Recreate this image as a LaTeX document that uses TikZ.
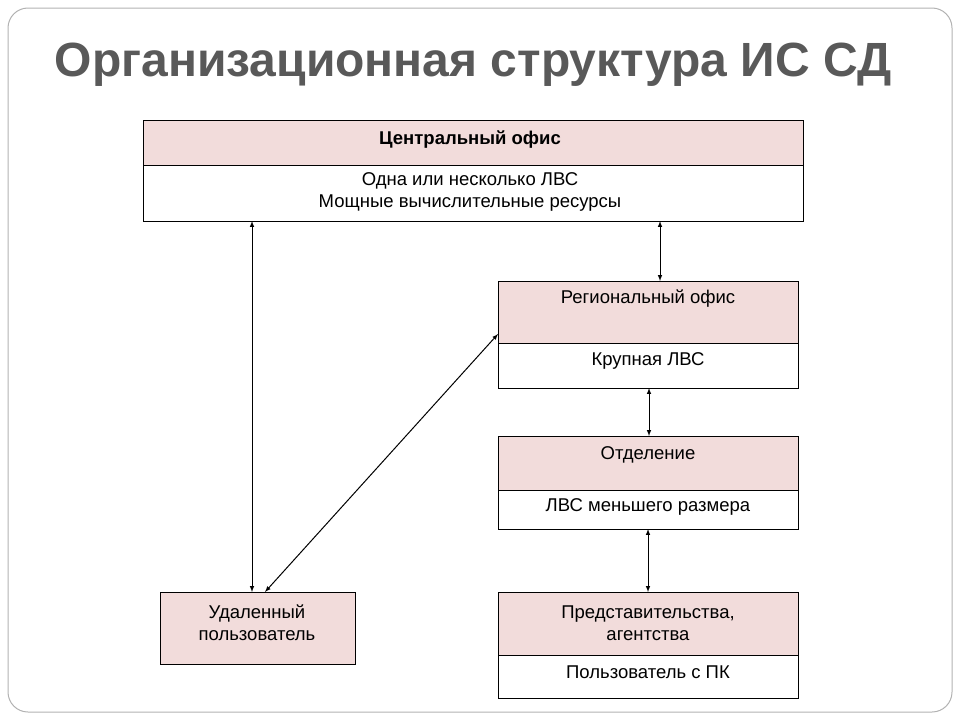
\documentclass[tikz,border=0pt]{standalone}
\usepackage{fontspec}
\setmainfont{Liberation Sans}
\begin{document}
\begin{tikzpicture}[x=1pt,y=-1pt,
  pinkc/.style={draw=black,fill=pinkbg,line width=0.8pt},
  whitec/.style={draw=black,fill=white,line width=0.8pt},
  lbl/.style={font=\fontsize{18.5}{22}\selectfont,align=center},
  conn/.style={<->,>=latex,line width=1pt}]
\definecolor{pinkbg}{HTML}{F2DCDB}
\definecolor{titleg}{HTML}{595959}
\useasboundingbox (0,0) rectangle (960,720);
\draw[gray!60,line width=1pt,rounded corners=20pt] (8,8) rectangle (952,712);
\node[font=\fontsize{48}{54}\selectfont\bfseries,text=titleg] (title) at (473,65) {Организационная структура ИС СД};
% central
\draw[whitec] (143,165) rectangle (803,221);
\draw[pinkc] (143,120) rectangle (803,165);
\node[lbl,font=\fontsize{18.5}{22}\selectfont\bfseries] (c1) at (470,140) {Центральный офис};
\node[lbl] (c2) at (470,192) {Одна или несколько ЛВС\\Мощные вычислительные ресурсы};
\coordinate (cb1) at (252,221); \coordinate (cb2) at (660,221);
% regional
\draw[whitec] (498,343) rectangle (798,388);
\draw[pinkc] (498,281) rectangle (798,343);
\node[lbl] (r1) at (648,299) {Региональный офис};
\node[lbl] (r2) at (648,361) {Крупная ЛВС};
\coordinate (rt) at (660,281); \coordinate (rb) at (649,388); \coordinate (rl) at (498,334);
% dept
\draw[whitec] (498,490) rectangle (798,529);
\draw[pinkc] (498,436) rectangle (798,490);
\node[lbl] (d1) at (648,455) {Отделение};
\node[lbl] (d2) at (648,507) {ЛВС меньшего размера};
\coordinate (dt) at (649,436); \coordinate (db) at (648,529);
% agencies
\draw[whitec] (498,655) rectangle (798,698);
\draw[pinkc] (498,592) rectangle (798,655);
\node[lbl] (a1) at (648,623) {Представительства,\\агентства};
\node[lbl] (a2) at (648,672) {Пользователь с ПК};
\coordinate (at) at (648,592);
% remote
\draw[pinkc] (160,592) rectangle (355,664);
\node[lbl] (u) at (257,623) {Удаленный\\пользователь};
\coordinate (ut) at (252,592); \coordinate (ud) at (265,592);
% connectors
\draw[conn] (cb1) -- (ut);
\draw[conn] (cb2) -- (rt);
\draw[conn] (rb) -- (dt);
\draw[conn] (db) -- (at);
\draw[conn] (rl) -- (ud);
\end{tikzpicture}
\end{document}
